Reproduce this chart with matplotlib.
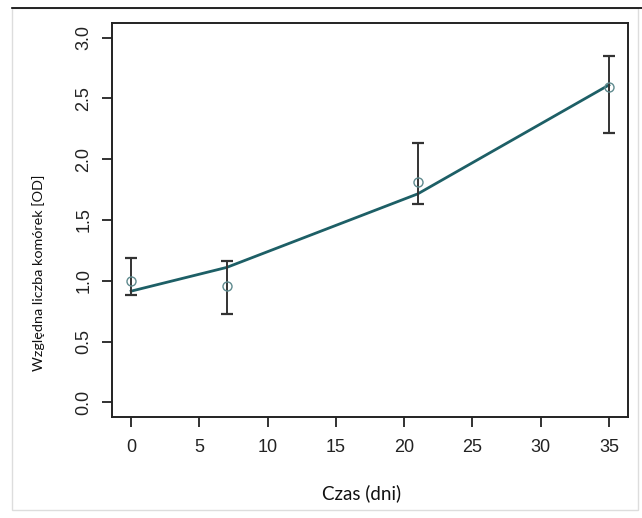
import matplotlib
matplotlib.use("Agg")
import matplotlib.pyplot as plt
from matplotlib.patches import Rectangle
from matplotlib.lines import Line2D

days = [0, 7, 21, 35]
means = [1.00, 0.96, 1.81, 2.59]
err_low = [0.88, 0.725, 1.635, 2.215]
err_high = [1.185, 1.165, 2.135, 2.85]
fit = [0.915, 1.11, 1.715, 2.61]
xticks = [0, 5, 10, 15, 20, 25, 30, 35]
yticks = [0.0, 0.5, 1.0, 1.5, 2.0, 2.5, 3.0]

fig = plt.figure(figsize=(6.42, 5.18), dpi=100)
fig.patch.set_facecolor("white")
# outer frame
fig.add_artist(Rectangle((12/642, 1-510/518), 626/642, 502/518, transform=fig.transFigure,
                         fill=False, edgecolor="#dddddd", linewidth=1.0))
fig.add_artist(Line2D([12/642, 1.0], [1-7.5/518, 1-7.5/518], transform=fig.transFigure,
                      color="black", linewidth=1.2))

ax = fig.add_axes([112/642, 1-417/518, 516/642, 394/518])
ax.set_xlim(-1.4, 36.4)
ax.set_ylim(-0.12, 3.12)

ax.plot(days, fit, color="#1d5f66", linewidth=2.0, zorder=2)
for x, lo, hi in zip(days, err_low, err_high):
    ax.vlines(x, lo, hi, color="#333333", linewidth=1.4, zorder=3)
    ax.hlines([lo, hi], x - 0.45, x + 0.45, color="#333333", linewidth=1.6, zorder=3)
ax.plot(days, means, linestyle="none", marker="o", markersize=6.5, markerfacecolor="none",
        markeredgecolor="#5f8a8e", markeredgewidth=1.0, zorder=4)

for s in ax.spines.values():
    s.set_color("#222222")
    s.set_linewidth(1.4)

ax.set_xticks(xticks)
ax.set_xticklabels([str(v) for v in xticks], fontfamily="Liberation Sans", fontsize=13, color="#222222")
ax.set_yticks(yticks)
ax.set_yticklabels([f"{v:.1f}" for v in yticks], fontfamily="Liberation Sans", fontsize=13,
                   color="#222222", rotation=90, va="center")
ax.tick_params(axis="both", direction="out", length=7, width=1.3, color="#222222")
ax.tick_params(axis="x", pad=9)
ax.tick_params(axis="y", pad=7)

fig.text(362/642, 1-493/518, "Czas (dni)", fontfamily="Lato", fontsize=13.5,
         ha="center", va="center", color="#111111")
fig.text(39/642, 1-273/518, "Względna liczba komórek [OD]", fontfamily="Lato", fontsize=10.4,
         ha="center", va="center", rotation=90, color="#111111")

fig.savefig("out.png", dpi=100, facecolor="white")
